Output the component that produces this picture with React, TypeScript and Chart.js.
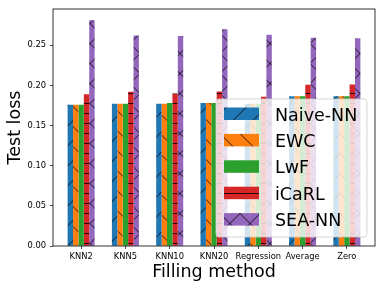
import React, { useEffect, useRef } from 'react';
import { Chart, registerables } from 'chart.js';

Chart.register(...registerables);

const categories = ['KNN2', 'KNN5', 'KNN10', 'KNN20', 'Regression', 'Average', 'Zero'];
const seriesNames = ['Naive-NN', 'EWC', 'LwF', 'iCaRL', 'SEA-NN'];
const naiveNN = [0.176, 0.177, 0.177, 0.178, 0.177, 0.1865, 0.1865];
const ewc = [0.176, 0.177, 0.177, 0.178, 0.177, 0.1865, 0.1865];
const lwf = [0.176, 0.177, 0.178, 0.178, 0.177, 0.1865, 0.1865];
const icarl = [0.189, 0.192, 0.19, 0.1925, 0.1857, 0.2008, 0.201];
const seaNN = [0.281, 0.262, 0.2615, 0.27, 0.263, 0.2594, 0.2586];
const yTicks = [0, 0.05, 0.1, 0.15, 0.2, 0.25];
const yMax = 0.2951;
const xMin = -0.635;
const xMax = 6.635;

const colors = ['#1f77b4', '#ff7f0e', '#2ca02c', '#d62728', '#9467bd'];
const hatches = ['/', '\\', '', '-', 'x'];
const seriesValues = [naiveNN, ewc, lwf, icarl, seaNN];

const FONT = 'DejaVu Sans';

function makePattern(color: string, hatch: string): CanvasPattern | string {
  if (!hatch) return color;
  const size = 20;
  const c = document.createElement('canvas');
  c.width = size;
  c.height = size;
  const g = c.getContext('2d')!;
  g.fillStyle = color;
  g.fillRect(0, 0, size, size);
  g.strokeStyle = '#000';
  g.lineWidth = 0.83;
  const ph = 13.5;
  g.beginPath();
  if (hatch === '/' || hatch === 'x') {
    for (let k = -2; k <= 3; k++) {
      const s = ph + 20 * k;
      g.moveTo(-5, s + 5);
      g.lineTo(25, s - 25);
    }
  }
  if (hatch === '\\' || hatch === 'x') {
    for (let k = -2; k <= 3; k++) {
      const s = ph + 20 * k;
      g.moveTo(-5, s - 5);
      g.lineTo(25, s + 25);
    }
  }
  if (hatch === '-') {
    for (let k = 0; k < 2; k++) {
      const y = 3.5 + 10 * k;
      g.moveTo(-2, y);
      g.lineTo(22, y);
    }
  }
  g.stroke();
  const ctx = document.createElement('canvas').getContext('2d')!;
  return ctx.createPattern(c, 'repeat')!;
}

export default function App() {
  const ref = useRef<HTMLCanvasElement | null>(null);

  useEffect(() => {
    document.body.style.margin = '0';
    const canvas = ref.current!;
    const fills = colors.map((c, i) => makePattern(c, hatches[i]));

    const framePlugin = {
      id: 'frameAndLegend',
      afterDatasetsDraw(chart: any) {
        const { ctx, chartArea: a } = chart;
        ctx.save();
        ctx.strokeStyle = '#000';
        ctx.lineWidth = 0.8;
        ctx.strokeRect(a.left, a.top, a.right - a.left, a.bottom - a.top);
        ctx.restore();
      },
      afterDraw(chart: any) {
        const { ctx, chartArea: a } = chart;
        const w = 151;
        const h = 138;
        const x0 = a.right - 8 - w;
        const y0 = a.bottom - 9 - h;
        ctx.save();
        ctx.beginPath();
        (ctx as any).roundRect(x0, y0, w, h, 3);
        ctx.fillStyle = 'rgba(255,255,255,0.8)';
        ctx.fill();
        ctx.strokeStyle = '#cccccc';
        ctx.lineWidth = 0.83;
        ctx.stroke();
        ctx.font = `17.5px "${FONT}"`;
        ctx.textBaseline = 'alphabetic';
        ctx.textAlign = 'left';
        for (let i = 0; i < seriesNames.length; i++) {
          const top = y0 + 8.5 + 26.4 * i;
          ctx.fillStyle = fills[i] as any;
          ctx.fillRect(x0 + 8, top, 35, 12.5);
          ctx.fillStyle = '#000';
          ctx.fillText(seriesNames[i], x0 + 59, top + 13);
        }
        ctx.restore();
      },
    };

    const chart = new Chart(canvas, {
      type: 'bar',
      data: {
        datasets: seriesNames.map((name, i) => ({
          label: name,
          data: seriesValues[i].map((v, j) => ({ x: j, y: v })),
          backgroundColor: fills[i] as any,
          borderWidth: 0,
          categoryPercentage: 0.61,
          barPercentage: 1,
        })),
      },
      options: {
        responsive: false,
        animation: false,
        events: [],
        layout: { padding: { top: 6, right: 7, left: 0, bottom: 0 } },
        plugins: {
          legend: { display: false },
          tooltip: { enabled: false },
        },
        scales: {
          x: {
            type: 'linear',
            min: xMin,
            max: xMax,
            offset: false,
            afterBuildTicks: (s: any) => {
              s.ticks = categories.map((_, i) => ({ value: i }));
            },
            afterFit: (s: any) => {
              s.height = 43;
            },
            grid: {
              offset: false,
              drawOnChartArea: false,
              drawTicks: true,
              tickLength: 3,
              color: '#000',
              lineWidth: 0.7,
            },
            border: { display: false },
            ticks: {
              autoSkip: false,
              maxRotation: 0,
              minRotation: 0,
              padding: 3,
              color: '#000',
              font: { family: FONT, size: 8.33 },
              callback: (v: any) => categories[Math.round(Number(v))] ?? '',
            },
            title: {
              display: true,
              text: 'Filling method',
              color: '#000',
              font: { family: FONT, size: 17.5, lineHeight: 1.2 },
              padding: { top: 0, bottom: 6.4 },
            },
          },
          y: {
            type: 'linear',
            min: 0,
            max: yMax,
            afterBuildTicks: (s: any) => {
              s.ticks = yTicks.map((v) => ({ value: v }));
            },
            afterFit: (s: any) => {
              s.width = 53;
            },
            grid: {
              drawOnChartArea: false,
              drawTicks: true,
              tickLength: 3,
              color: '#000',
              lineWidth: 0.7,
            },
            border: { display: false },
            ticks: {
              padding: 4,
              color: '#000',
              font: { family: FONT, size: 8.33 },
              callback: (v: any) => Number(v).toFixed(2),
            },
            title: {
              display: true,
              text: 'Test loss',
              color: '#000',
              font: { family: FONT, size: 17.5, lineHeight: 1.2 },
              padding: { top: 4.5, bottom: 0 },
            },
          },
        },
      },
      plugins: [framePlugin],
    });

    return () => chart.destroy();
  }, []);

  return (
    <div style={{ position: 'absolute', left: 0, top: 0, width: 382, height: 289 }}>
      <canvas ref={ref} width={382} height={289} style={{ display: 'block' }} />
    </div>
  );
}
